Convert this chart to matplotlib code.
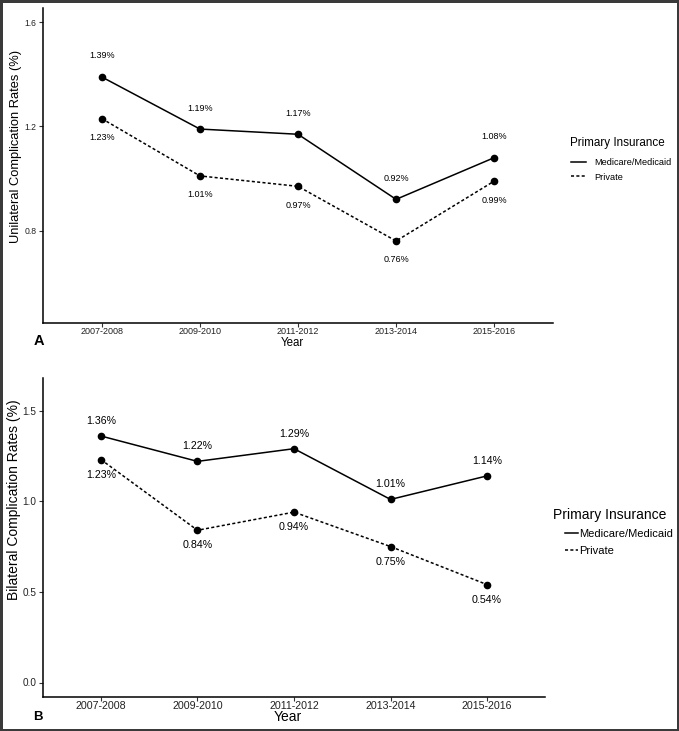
import matplotlib
matplotlib.use("Agg")
import matplotlib.pyplot as plt
from matplotlib.lines import Line2D

plt.rcParams['font.family'] = ['Liberation Sans', 'DejaVu Sans']

years = ["2007-2008", "2009-2010", "2011-2012", "2013-2014", "2015-2016"]
series_names = ["Medicare/Medicaid", "Private"]
uni_medicare = [1.39, 1.19, 1.17, 0.92, 1.08]
uni_private = [1.23, 1.01, 0.97, 0.76, 0.99]
bi_medicare = [1.36, 1.22, 1.29, 1.01, 1.14]
bi_private = [1.23, 0.84, 0.94, 0.75, 0.54]
uni_yticks = [0.8, 1.2, 1.6]
bi_yticks = [0.0, 0.5, 1.0, 1.5]

W, H = 679, 731
fig = plt.figure(figsize=(W / 100, H / 100), dpi=100, facecolor='white',
                 edgecolor='#3a3a3a', linewidth=2.5)


def fx(px):
    return px / W


def fy(py):
    return 1 - py / H


def make_panel(rect, med, priv, ylim, yticks, ylabel, letter, sizes, offs,
               legend_pos, title_pos, tick_y, year_y, letter_pos, handle_len, text_pad,
               ylabel_pos, ytick_fs):
    tick_fs, lab_fs, ylab_fs, year_fs, leg_fs, title_fs, letter_fs = sizes
    l, r, t, b = rect
    ax = fig.add_axes([fx(l), fy(b), fx(r - l), (b - t) / H])
    x = list(range(len(years)))
    ax.plot(x, med, color='black', lw=1.1, ls='-', marker='o', ms=4.5, zorder=3)
    ax.plot(x, priv, color='black', lw=1.1, ls=(0, (2, 1.5)), marker='o', ms=4.5, zorder=3)
    for xi, v in zip(x, med):
        ax.annotate(f"{v:.2f}%", (xi, v), xytext=(0, offs[0]), textcoords='offset pixels',
                    ha='center', va='center', fontsize=lab_fs)
    for xi, v in zip(x, priv):
        ax.annotate(f"{v:.2f}%", (xi, v), xytext=(0, offs[1]), textcoords='offset pixels',
                    ha='center', va='center', fontsize=lab_fs)
    lo, hi = ylim
    e = 0.05 * (hi - lo)
    ax.set_ylim(lo - e, hi + e)
    ax.set_xlim(-0.6, len(years) - 1 + 0.6)
    ax.set_yticks(yticks)
    ax.set_yticklabels([f"{v:.1f}" for v in yticks])
    ax.set_xticks(x)
    ax.set_xticklabels([])
    for s in ['top', 'right']:
        ax.spines[s].set_visible(False)
    for s in ['left', 'bottom']:
        ax.spines[s].set_linewidth(1.1)
    ax.tick_params(axis='both', direction='out', length=3, width=0.8, color='#333333',
                   pad=1.5, labelcolor='#222222')
    ax.tick_params(axis='y', labelsize=ytick_fs)
    for xi, lab in zip(x, years):
        ax.annotate(lab, (xi, 0), xycoords=('data', 'axes fraction'),
                    xytext=(0, -(tick_y - b)), textcoords='offset pixels',
                    ha='center', va='center', fontsize=tick_fs, color='#222222')
    ax.set_ylabel(ylabel, fontsize=ylab_fs, va='center')
    ax.yaxis.set_label_coords(fx(ylabel_pos[0]), fy(ylabel_pos[1]), transform=fig.transFigure)
    fig.text(fx((l + r) / 2 - 6), fy(year_y), "Year", ha='center', va='center', fontsize=year_fs)
    fig.text(fx(letter_pos[0]), fy(letter_pos[1]), letter, ha='center', va='center',
             fontsize=letter_fs, fontweight='bold')
    handles = [Line2D([], [], color='black', lw=1.1, ls='-'),
               Line2D([], [], color='black', lw=1.1, ls=(0, (2, 1.5)))]
    fig.text(fx(title_pos[0]), fy(title_pos[1]), "Primary Insurance", ha='left', va='center',
             fontsize=title_fs)
    fig.legend(handles, series_names, loc='upper left',
               bbox_to_anchor=(fx(legend_pos[0]), fy(legend_pos[1])),
               frameon=False, fontsize=leg_fs, handlelength=handle_len,
               handletextpad=text_pad, borderpad=0, borderaxespad=0,
               labelspacing=0.6)
    return ax


make_panel(rect=(43, 553, 8, 323), med=uni_medicare, priv=uni_private, ylim=(0.5, 1.6),
           yticks=uni_yticks, ylabel="Unilateral Complication Rates (%)", letter="A",
           sizes=(6.5, 6.5, 9.3, 8.3, 6.6, 8.4, 10.5), offs=(21, -19),
           legend_pos=(571, 158), title_pos=(570, 143), tick_y=332, year_y=343,
           letter_pos=(39, 341), handle_len=1.6, text_pad=0.9, ylabel_pos=(16, 146),
           ytick_fs=6.2)

make_panel(rect=(43, 545, 378, 697), med=bi_medicare, priv=bi_private, ylim=(0.0, 1.6),
           yticks=bi_yticks, ylabel="Bilateral Complication Rates (%)", letter="B",
           sizes=(7.7, 7.7, 10.0, 10.0, 8.0, 10.0, 9.5), offs=(15, -15),
           legend_pos=(565, 529), title_pos=(553, 515), tick_y=706, year_y=717,
           letter_pos=(38, 717), handle_len=1.2, text_pad=0.1, ylabel_pos=(14, 500),
           ytick_fs=7.2)

fig.savefig("out.png", dpi=100, facecolor='white', edgecolor=fig.get_edgecolor())
